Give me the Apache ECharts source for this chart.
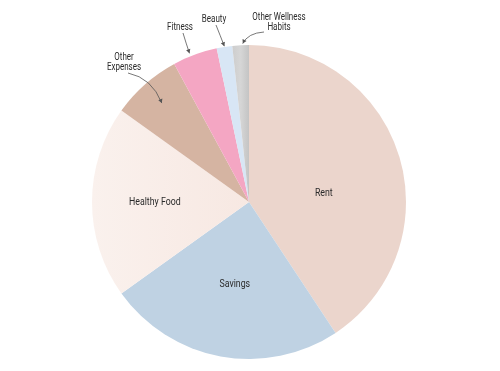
<!DOCTYPE html>
<html>
<head>
<meta charset="utf-8">
<script src="https://cdn.jsdelivr.net/npm/echarts@6/dist/echarts.min.js"></script>
<style>html,body{margin:0;padding:0;background:#fff}#c{width:500px;height:371px}</style>
</head>
<body>
<div id="c"></div>
<script>
// ---- data ----
var categories = ['Rent', 'Savings', 'Healthy Food', 'Other Expenses', 'Fitness', 'Beauty', 'Other Wellness Habits'];
var values = [40.7, 24.4, 19.8, 7.2, 4.6, 1.6, 1.7];
var labelTexts = ['Rent', 'Savings', 'Healthy Food', 'Other\nExpenses', 'Fitness', 'Beauty', 'Other Wellness\nHabits'];

// ---- style ----
var colors = ['#ebd5cc', '#bfd2e3',
  { type: 'linear', x: 0, y: 0, x2: 1, y2: 0, colorStops: [{ offset: 0, color: '#faf1ed' }, { offset: 1, color: '#f7e8e2' }] },
  '#d5b4a2', '#f4a6c3', '#d8e6f5',
  { type: 'linear', x: 0, y: 0, x2: 1, y2: 0, colorStops: [{ offset: 0, color: '#cdcdcd' }, { offset: 0.5, color: '#d6d6d6' }, { offset: 1, color: '#c4c4c4' }] }];
var FONT = 'Roboto, "Liberation Sans", sans-serif';
var SQUEEZE = 0.8;
// inside labels: position as (fraction of slice angle, radius factor)
var inside = {
  'Rent':         { frac: 0.567, rf: 0.48 },
  'Savings':      { frac: 0.493, rf: 0.53 },
  'Healthy Food': { frac: 0.5,   rf: 0.6 }
};
// outside annotations: text anchor, arrow start, control point, tip (fraction of slice angle, radius factor)
var annot = {
  'Other Expenses':        { tx: 124, ty: 62, sx: 128, sy: 73, cx: 152, cy: 78, frac: 0.5, rf: 0.84 },
  'Fitness':               { tx: 180, ty: 27, sx: 183, sy: 33, cx: 186, cy: 43, frac: 0.4, rf: 1.02 },
  'Beauty':                { tx: 214, ty: 19, sx: 216, sy: 25, cx: 220, cy: 35, frac: 0.5, rf: 1.005 },
  'Other Wellness Habits': { tx: 279, ty: 22, sx: 264, sy: 32, cx: 248, cy: 33, frac: 0.63, rf: 1.01 }
};

var chart = echarts.init(document.getElementById('c'), null, { renderer: 'canvas' });
chart.setOption({
  animation: false,
  series: [{
    type: 'pie',
    center: [249, 202],
    radius: [0, 157],
    startAngle: 90,
    clockwise: true,
    data: categories.map(function (n, i) {
      return { name: n, value: values[i], itemStyle: { color: colors[i] } };
    }),
    label: { show: false },
    labelLine: { show: false },
    emphasis: { disabled: true }
  }]
});

// labels & arrows derived from the library's own slice layout
var sData = chart.getModel().getSeriesByIndex(0).getData();
var graphics = [];
function pt(L, frac, rf) {
  var ang = L.startAngle + (L.endAngle - L.startAngle) * frac;
  return [L.cx + L.r * rf * Math.cos(ang), L.cy + L.r * rf * Math.sin(ang)];
}
categories.forEach(function (n, i) {
  var L = sData.getItemLayout(i);
  var ins = inside[n];
  if (ins) {
    var p = pt(L, ins.frac, ins.rf);
    graphics.push({
      type: 'text', x: p[0], y: p[1], scaleX: SQUEEZE, z: 10,
      style: { text: labelTexts[i], fill: '#2b2b2b', font: '11px ' + FONT, align: 'center', verticalAlign: 'middle' }
    });
    return;
  }
  var a = annot[n];
  var tip = pt(L, a.frac, a.rf);
  graphics.push({
    type: 'text', x: a.tx, y: a.ty, scaleX: SQUEEZE, z: 10,
    style: { text: labelTexts[i], fill: '#2b2b2b', font: '10px ' + FONT, align: 'center', verticalAlign: 'middle', lineHeight: 10 }
  });
  graphics.push({
    type: 'bezierCurve', z: 10,
    shape: { x1: a.sx, y1: a.sy, x2: tip[0], y2: tip[1], cpx1: a.cx, cpy1: a.cy },
    style: { stroke: '#555', lineWidth: 0.8, fill: null }
  });
  var dx = tip[0] - a.cx, dy = tip[1] - a.cy, d = Math.sqrt(dx * dx + dy * dy);
  var ux = dx / d, uy = dy / d, hl = 4, hw = 2.2;
  graphics.push({
    type: 'polygon', z: 10,
    shape: { points: [tip, [tip[0] - ux * hl - uy * hw, tip[1] - uy * hl + ux * hw], [tip[0] - ux * hl + uy * hw, tip[1] - uy * hl - ux * hw]] },
    style: { fill: '#555' }
  });
});
chart.setOption({ graphic: graphics });
</script>
</body>
</html>
